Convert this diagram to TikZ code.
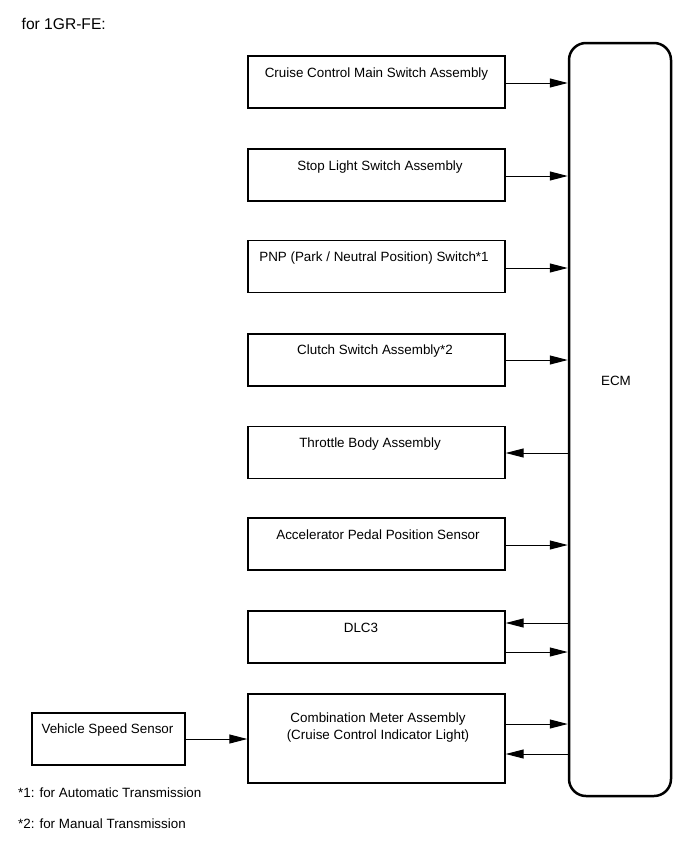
\documentclass[tikz,border=0pt]{standalone}
\usepackage{fontspec}
\setmainfont{Liberation Sans}
\usetikzlibrary{arrows.meta}
\begin{document}
\begin{tikzpicture}[x=1pt,y=-1pt,
  font=\fontsize{13.4}{16}\selectfont,
  blk/.style={draw, line width=1.4pt, inner sep=0pt, minimum width=257pt, minimum height=52pt},
  lbl/.style={anchor=base, inner sep=0pt},
  note/.style={anchor=base west, inner sep=0pt},
  conn/.style={line width=1pt, -{Triangle[length=18pt,width=9pt]}}]
\useasboundingbox (0,0) rectangle (690,854);

% title
\node[note, font=\fontsize{15.6}{18}\selectfont] (title) at (21.5,29) {for 1GR-FE:};

% ECM
\node[draw, line width=2.5pt, rounded corners=17pt, minimum width=102pt, minimum height=753pt, inner sep=0pt] (ecm) at (620,419.5) {};
\node[lbl] (ecmlbl) at (616,385) {ECM};

% left boxes
\node[blk] (cruise) at (376.5,82) {};
\node[lbl] (cruiset) at (376.5,77) {Cruise Control Main Switch Assembly};

\node[blk] (stop) at (376.5,175) {};
\node[lbl] (stopt) at (380,170) {Stop Light Switch Assembly};

\node[blk] (pnp) at (376.5,266.5) {};
\node[lbl] (pnpt) at (374,261) {PNP (Park / Neutral Position) Switch*1};

\node[blk] (clutch) at (376.5,360) {};
\node[lbl] (clutcht) at (375,354) {Clutch Switch Assembly*2};

\node[blk] (thr) at (376.5,452.5) {};
\node[lbl] (thrt) at (370,447) {Throttle Body Assembly};

\node[blk] (acc) at (376.5,544) {};
\node[lbl] (acct) at (378,539) {Accelerator Pedal Position Sensor};

\node[blk] (dlc) at (376.5,637) {};
\node[lbl] (dlct) at (361,632) {DLC3};

\node[blk, minimum height=89pt] (comb) at (376.5,738.5) {};
\node[lbl] (combt1) at (378,722) {Combination Meter Assembly};
\node[lbl] (combt2) at (378,739) {(Cruise Control Indicator Light)};

\node[blk, minimum width=153pt] (vss) at (108.5,739) {};
\node[lbl] (vsst) at (107.5,733) {Vehicle Speed Sensor};

% footnotes
\node[note] (fn1) at (18,797) {*1: for Automatic Transmission};
\node[note] (fn2) at (18,828) {*2: for Manual Transmission};

% connector heights
\coordinate (y1) at (0,83);
\coordinate (y2) at (0,176);
\coordinate (y3) at (0,268);
\coordinate (y4) at (0,360);
\coordinate (y5) at (0,453);
\coordinate (y6) at (0,545);
\coordinate (y7a) at (0,623);
\coordinate (y7b) at (0,652);
\coordinate (y8a) at (0,724);
\coordinate (y8b) at (0,754);

\draw[conn] (cruise.east |- y1) -- (ecm.west |- y1);
\draw[conn] (stop.east |- y2) -- (ecm.west |- y2);
\draw[conn] (pnp.east |- y3) -- (ecm.west |- y3);
\draw[conn] (clutch.east |- y4) -- (ecm.west |- y4);
\draw[conn] (ecm.west |- y5) -- (thr.east |- y5);
\draw[conn] (acc.east |- y6) -- (ecm.west |- y6);
\draw[conn] (ecm.west |- y7a) -- (dlc.east |- y7a);
\draw[conn] (dlc.east |- y7b) -- (ecm.west |- y7b);
\draw[conn] (comb.east |- y8a) -- (ecm.west |- y8a);
\draw[conn] (ecm.west |- y8b) -- (comb.east |- y8b);
\draw[conn] (vss.east) -- (comb.west |- vss.east);
\end{tikzpicture}
\end{document}
